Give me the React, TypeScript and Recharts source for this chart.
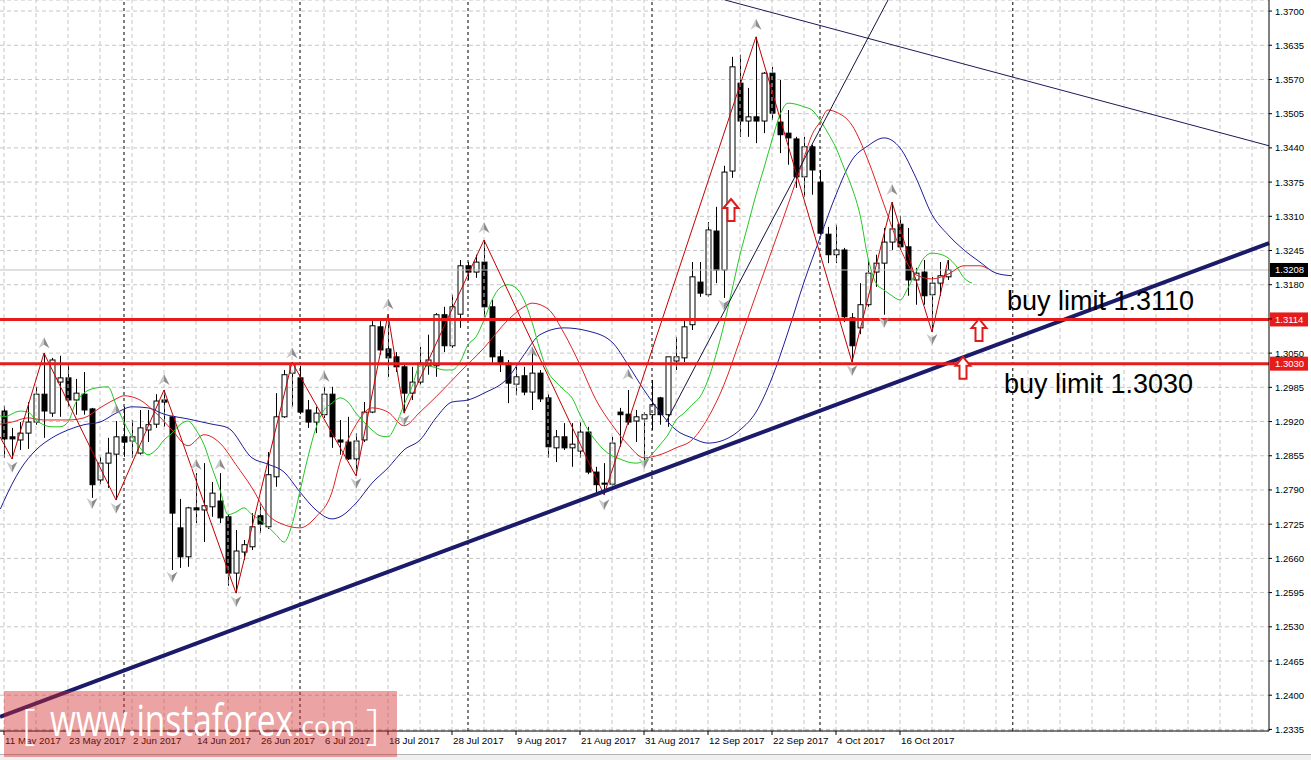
import React from 'react';
import {
  ComposedChart, Bar, Line, Scatter, XAxis, YAxis, CartesianGrid, ReferenceLine, ReferenceDot,
} from 'recharts';

const FONT = "'Liberation Sans', Arial, sans-serif";

// ---- daily candles (bar index 0 = 11 May 2017) ----
const OPEN = [1.2940,1.2891,1.2885,1.2898,1.2919,1.2972,1.2936,1.2995,1.3003,1.2961,
1.2972,1.2944,1.2809,1.2841,1.2858,1.2891,1.2883,1.2860,1.2904,1.2915,
1.2961,1.2929,1.2718,1.2663,1.2756,1.2752,1.2758,1.2769,1.2739,1.2632,
1.2672,1.2682,1.2741,1.2720,1.2815,1.2929,1.3012,1.3003,1.2942,1.2919,
1.2933,1.2972,1.2885,1.2881,1.2849,1.2885,1.2938,1.3100,1.3058,1.3043,
1.3024,1.2974,1.2995,1.3026,1.3026,1.3123,1.3064,1.3124,1.3216,1.3204,
1.3223,1.3138,1.3043,1.3031,1.2991,1.3007,1.2976,1.3012,1.2965,1.2870,
1.2891,1.2870,1.2864,1.2900,1.2824,1.2803,1.2801,1.2938,1.2934,1.2921,
1.2925,1.2933,1.2965,1.2933,1.3035,1.3041,1.3104,1.3185,1.3161,1.3282,
1.3208,1.3396,1.3563,1.3491,1.3499,1.3491,1.3582,1.3489,1.3468,1.3457,
1.3385,1.3442,1.3375,1.3276,1.3237,1.3246,1.3117,1.3098,1.3142,1.3204,
1.3221,1.3261,1.3295,1.3252,1.3189,1.3204,1.3161,1.3183,1.3195];

const HIGH = [1.2950,1.2908,1.2919,1.2957,1.2986,1.3050,1.3041,1.3045,1.3031,1.3001,
1.3014,1.2946,1.2853,1.2889,1.2921,1.2948,1.2923,1.2942,1.2942,1.2972,
1.2980,1.2931,1.2773,1.2758,1.2822,1.2841,1.2805,1.2822,1.2743,1.2714,
1.2695,1.2746,1.2765,1.2862,1.2974,1.3018,1.3033,1.3026,1.2961,1.2948,
1.2986,1.2986,1.2923,1.2929,1.2898,1.2957,1.3113,1.3115,1.3124,1.3052,
1.3028,1.3024,1.3062,1.3085,1.3126,1.3138,1.3161,1.3227,1.3223,1.3237,
1.3265,1.3151,1.3056,1.3037,1.3024,1.3024,1.3050,1.3018,1.2972,1.2904,
1.2917,1.2917,1.2919,1.2910,1.2834,1.2841,1.2891,1.2946,1.2980,1.2942,
1.2938,1.2999,1.2967,1.3043,1.3081,1.3111,1.3223,1.3223,1.3299,1.3328,
1.3406,1.3613,1.3617,1.3554,1.3651,1.3584,1.3594,1.3569,1.3512,1.3461,
1.3461,1.3446,1.3398,1.3290,1.3294,1.3250,1.3126,1.3183,1.3227,1.3237,
1.3288,1.3337,1.3311,1.3288,1.3212,1.3227,1.3195,1.3223,1.3227];

const LOW = [1.2851,1.2849,1.2866,1.2868,1.2914,1.2889,1.2929,1.2929,1.2948,1.2933,
1.2933,1.2775,1.2801,1.2794,1.2771,1.2853,1.2851,1.2857,1.2881,1.2908,
1.2910,1.2638,1.2642,1.2644,1.2727,1.2691,1.2739,1.2727,1.2608,1.2594,
1.2657,1.2676,1.2708,1.2716,1.2796,1.2927,1.2948,1.2934,1.2908,1.2898,
1.2927,1.2870,1.2857,1.2847,1.2817,1.2881,1.2936,1.3047,1.3005,1.3014,
1.2936,1.2961,1.2990,1.3009,1.3005,1.3052,1.3060,1.3098,1.3189,1.3193,
1.3119,1.3028,1.3014,1.2955,1.2970,1.2970,1.2942,1.2957,1.2851,1.2843,
1.2866,1.2834,1.2851,1.2820,1.2781,1.2781,1.2798,1.2872,1.2914,1.2881,
1.2847,1.2904,1.2914,1.2910,1.3018,1.3033,1.3094,1.3157,1.3157,1.3183,
1.3155,1.3383,1.3461,1.3461,1.3449,1.3468,1.3493,1.3430,1.3408,1.3364,
1.3347,1.3351,1.3275,1.3221,1.3221,1.3109,1.3033,1.3086,1.3138,1.3176,
1.3123,1.3246,1.3246,1.3159,1.3142,1.3142,1.3090,1.3159,1.3189];

const CLOSE = [1.2887,1.2887,1.2898,1.2919,1.2972,1.2940,1.3037,1.3003,1.2961,1.2974,
1.2942,1.2800,1.2841,1.2860,1.2891,1.2881,1.2891,1.2908,1.2914,1.2959,
1.2957,1.2746,1.2663,1.2756,1.2752,1.2760,1.2784,1.2737,1.2632,1.2674,
1.2686,1.2720,1.2725,1.2819,1.2929,1.3009,1.3029,1.2938,1.2919,1.2936,
1.2972,1.2891,1.2881,1.2849,1.2883,1.2938,1.3102,1.3056,1.3041,1.3024,
1.2974,1.2995,1.3031,1.3037,1.3123,1.3064,1.3138,1.3216,1.3204,1.3223,
1.3138,1.3043,1.3031,1.2993,1.3005,1.2976,1.3012,1.2963,1.2872,1.2891,
1.2870,1.2877,1.2900,1.2824,1.2800,1.2801,1.2879,1.2933,1.2919,1.2929,
1.2933,1.2952,1.2933,1.3043,1.3043,1.3100,1.3195,1.3164,1.3284,1.3208,
1.3394,1.3594,1.3491,1.3499,1.3491,1.3582,1.3506,1.3465,1.3459,1.3385,
1.3442,1.3398,1.3278,1.3237,1.3246,1.3119,1.3064,1.3142,1.3202,1.3221,
1.3261,1.3286,1.3252,1.3189,1.3202,1.3159,1.3183,1.3197,1.3208];

// ---- axis ticks ----
const LABEL_BARS = [0, 8, 16, 24, 32, 40, 48, 56, 64, 72, 80, 88, 96, 104, 112];
const DATE_LABELS = ['11 May 2017', '23 May 2017', '2 Jun 2017', '14 Jun 2017', '26 Jun 2017',
  '6 Jul 2017', '18 Jul 2017', '28 Jul 2017', '9 Aug 2017', '21 Aug 2017', '31 Aug 2017',
  '12 Sep 2017', '22 Sep 2017', '4 Oct 2017', '16 Oct 2017'];
const PRICE_TICKS = [1.2335, 1.2400, 1.2465, 1.2530, 1.2595, 1.2660, 1.2725, 1.2790, 1.2855,
  1.2920, 1.2985, 1.3050, 1.3115, 1.3180, 1.3245, 1.3310, 1.3375, 1.3440, 1.3505, 1.3570,
  1.3635, 1.3700];
// price labels hidden under the red 1.3114 marker box
const HIDDEN_PRICE_LABELS = [1.3115];
const GRID_BARS = [0,4,8,12,16,20,24,28,32,36,40,44,48,52,56,60,64,68,72,76,80,84,88,92,96,
  100,104,108,112,116,120,124,128,132,136,140,144,148,152,156];
const MONTH_SEPARATORS = [15, 37, 58, 81, 102, 126.1];

// ---- Alligator lines [bar, price] ----
const LIPS: [number, number][] = [[-0.5,1.2931],[0,1.2929],[2,1.2940],[3,1.2938],[4,1.2923],[6,1.2910],[7,1.2910],
[8,1.2919],[9,1.2957],[10,1.2974],[11,1.2982],[13,1.2986],[14,1.2952],[15,1.2919],[16,1.2891],
[17,1.2870],[18,1.2857],[19,1.2866],[20,1.2885],[21,1.2898],[22,1.2914],[23,1.2921],[24,1.2904],
[25,1.2876],[26,1.2832],[27,1.2790],[28,1.2743],[29,1.2748],[30,1.2756],[31,1.2743],[32,1.2733],
[33,1.2720],[34,1.2705],[35,1.2691],[36,1.2724],[37,1.2788],[38,1.2853],[39,1.2908],[40,1.2942],
[41,1.2955],[42,1.2965],[43,1.2957],[44,1.2936],[45,1.2919],[46,1.2904],[47,1.2893],[48,1.2891],
[49,1.2914],[50,1.2952],[51,1.2986],[52,1.3026],[53,1.3026],[54,1.3022],[55,1.3018],[56,1.3018],
[57,1.3033],[58,1.3066],[59,1.3081],[60,1.3113],[61,1.3151],[62,1.3174],[63,1.3180],[64,1.3174],
[65,1.3151],[66,1.3109],[67,1.3056],[68,1.3014],[69,1.2995],[70,1.2980],[71,1.2965],[72,1.2933],
[73,1.2904],[74,1.2883],[75,1.2866],[76,1.2855],[77,1.2849],[78,1.2843],[79,1.2841],[80,1.2845],
[81,1.2858],[82,1.2876],[83,1.2895],[84,1.2923],[85,1.2936],[86,1.2952],[87,1.2967],[88,1.2999],
[89,1.3047],[90,1.3104],[91,1.3170],[92,1.3237],[93,1.3294],[94,1.3351],[95,1.3402],[96,1.3455],
[97,1.3503],[98,1.3525],[99,1.3523],[100,1.3518],[101,1.3512],[102,1.3493],[103,1.3468],[104,1.3440],
[105,1.3402],[106,1.3364],[107,1.3313],[108,1.3231],[109,1.3183],[110,1.3170],[111,1.3159],
[112,1.3151],[113,1.3174],[114,1.3204],[115,1.3231],[116,1.3240],[117,1.3238],[118,1.3231],
[119,1.3216],[120,1.3193],[121,1.3183]];

const TEETH: [number, number][] = [[-0.5,1.2915],[1,1.2919],[3,1.2927],[5,1.2923],[8,1.2923],[10,1.2927],
[12,1.2946],[14,1.2963],[15,1.2969],[17,1.2961],[19,1.2936],[21,1.2904],[23,1.2874],[25,1.2895],
[27,1.2879],[29,1.2838],[31,1.2794],[33,1.2743],[35,1.2724],[37,1.2718],[39,1.2739],[41,1.2786],
[42,1.2843],[43,1.2885],[44,1.2914],[46,1.2946],[48,1.2938],[50,1.2912],[52,1.2938],[54,1.2967],
[57,1.3014],[60,1.3060],[63,1.3113],[65,1.3138],[66,1.3145],[68,1.3134],[70,1.3088],[72,1.3028],
[74,1.2961],[76,1.2914],[78,1.2876],[80,1.2851],[82,1.2857],[84,1.2870],[86,1.2885],[88,1.2927],
[90,1.2990],[92,1.3075],[94,1.3161],[96,1.3246],[98,1.3332],[100,1.3421],[101,1.3465],[102,1.3489],
[103,1.3512],[104,1.3508],[106,1.3483],[108,1.3417],[110,1.3332],[112,1.3250],[114,1.3199],
[116,1.3191],[118,1.3200],[120,1.3216],[122,1.3216],[123,1.3210]];

const JAW: [number, number][] = [[-0.45,1.2754],[1,1.2801],[2,1.2828],[4,1.2866],[6,1.2889],[8,1.2904],
[10,1.2914],[12,1.2919],[14,1.2936],[16,1.2948],[18,1.2946],[20,1.2934],[23,1.2925],[26,1.2915],
[28,1.2908],[31,1.2851],[33,1.2839],[35,1.2824],[37,1.2786],[39,1.2752],[41,1.2735],[42,1.2739],
[44,1.2765],[46,1.2803],[48,1.2832],[50,1.2866],[52,1.2885],[54,1.2927],[56,1.2957],[58,1.2961],
[60,1.2974],[63,1.3003],[65,1.3047],[67,1.3085],[70,1.3098],[73,1.3092],[76,1.3071],[78,1.3028],
[80,1.2980],[82,1.2938],[84,1.2904],[86,1.2889],[88,1.2879],[90,1.2885],[92,1.2904],[94,1.2938],
[96,1.3003],[98,1.3090],[100,1.3185],[102,1.3269],[104,1.3351],[106,1.3417],[108,1.3444],
[110,1.3459],[112,1.3440],[114,1.3383],[116,1.3313],[118,1.3275],[120,1.3246],[122,1.3223],
[124,1.3202],[126,1.3197]];

const ZIGZAG: [number, number][] = [[-0.5,1.2891],[1,1.2849],[5,1.3050],[14,1.2771],[20,1.2980],
[29,1.2594],[36,1.3033],[44,1.2817],[48,1.3124],[50,1.2936],[60,1.3265],[75,1.2781],[94,1.3651],
[106,1.3033],[111,1.3337],[116,1.3090],[118,1.3227]];

const FRACTAL_UP: [number, number][] = [[5,1.3069],[14,1.2942],[20,1.2999],[24,1.2838],[27,1.2838],
[36,1.3050],[40,1.3005],[48,1.3143],[60,1.3288],[66,1.3052],[78,1.3009],[94,1.3674],[111,1.3360]];
const FRACTAL_DOWN: [number, number][] = [[1,1.2834],[11,1.2765],[14,1.2756],[21,1.2625],[29,1.2579],
[44,1.2803],[50,1.2923],[75,1.2763],[80,1.2841],[90,1.3142],[106,1.3018],[110,1.3109],[116,1.3077]];

// ---- drawings ----
const LEVELS = [1.3114, 1.3030];
const BID = 1.3208;
const TRENDLINES = [
  { a: [-0.5, 1.2359], b: [158.125, 1.3259], w: 4, color: '#1b1b6a' },
  { a: [90.125, 1.3721], b: [158.125, 1.3444], w: 1, color: '#1a1a5a' },
  { a: [82.75, 1.2919], b: [110.5, 1.3721], w: 1, color: '#14143c' },
];
const ARROWS: [number, number][] = [[90.875, 1.3322], [121.875, 1.3094], [119.875, 1.3022]];
const NOTES = [
  { i: 125.375, p: 1.3132, text: 'buy limit 1.3110' },
  { i: 125, p: 1.2974, text: 'buy limit 1.3030' },
];

const Y_MIN = 1.2332;
const Y_MAX = 1.3721;
const X_MIN = -0.5;
const X_MAX = 158.125;

const candleRows = OPEN.map((o, i) => ({
  i, o, h: HIGH[i], l: LOW[i], c: CLOSE[i], range: [LOW[i], HIGH[i]],
}));
const toRows = (pairs: [number, number][]) => pairs.map(([i, v]) => ({ i, v }));

const Candle = (props: any) => {
  const { x, y, width, height, payload } = props;
  if (!payload || height == null || isNaN(y)) return null;
  const { o, h, l, c } = payload;
  const k = height / (h - l);
  const cx = Math.round(x + width / 2);
  const yo = y + (h - o) * k;
  const yc = y + (h - c) * k;
  const top = Math.min(yo, yc);
  const bh = Math.max(Math.abs(yc - yo), 1);
  const bull = c > o;
  return (
    <g>
      <line x1={cx + 0.5} x2={cx + 0.5} y1={y} y2={y + height} stroke="#000" strokeWidth={1} />
      <rect x={cx - 2} y={top} width={5} height={bh} fill={bull ? '#fff' : '#000'} stroke="#000" strokeWidth={1} />
    </g>
  );
};

const UpMark = (props: any) => {
  const { cx, cy } = props;
  if (cx == null || cy == null) return null;
  return (
    <g>
      <path d={`M${cx},${cy - 6} L${cx + 5.5},${cy + 5} L${cx},${cy + 1.5} Z`} fill="#8c8c8c" />
      <path d={`M${cx},${cy - 6} L${cx - 5.5},${cy + 5} L${cx},${cy + 1.5} Z`} fill="#c8c8c8" />
    </g>
  );
};
const DownMark = (props: any) => {
  const { cx, cy } = props;
  if (cx == null || cy == null) return null;
  return (
    <g>
      <path d={`M${cx},${cy + 6} L${cx + 5.5},${cy - 5} L${cx},${cy - 1.5} Z`} fill="#8c8c8c" />
      <path d={`M${cx},${cy + 6} L${cx - 5.5},${cy - 5} L${cx},${cy - 1.5} Z`} fill="#c8c8c8" />
    </g>
  );
};

const HollowArrow = (props: any) => {
  const { cx, cy } = props;
  const d = `M${cx},${cy - 11} L${cx + 7.5},${cy - 2} L${cx + 3.5},${cy - 2} L${cx + 3.5},${cy + 11} L${cx - 3.5},${cy + 11} L${cx - 3.5},${cy - 2} L${cx - 7.5},${cy - 2} Z`;
  return <path d={d} fill="#fff" stroke="#e01a1a" strokeWidth={2} strokeLinejoin="miter" />;
};

const NoteText = (text: string) => (props: any) => (
  <text x={props.cx} y={props.cy} fontSize={27} fontFamily={FONT} fill="#000">{text}</text>
);

const PriceBox = (value: string, bg: string) => (props: any) => {
  const vb = props.viewBox || {};
  const x = (vb.x || 0) + (vb.width || 0) + 1;
  const y = vb.y || 0;
  return (
    <g>
      <rect x={x} y={y - 7} width={38} height={14} fill={bg} />
      <text x={x + 5} y={y + 3.5} fontSize={9.5} fontFamily={FONT} fill="#fff">{value}</text>
    </g>
  );
};

const YTick = (props: any) => {
  const { x, y, payload } = props;
  if (HIDDEN_PRICE_LABELS.includes(payload.value)) return null;
  return (
    <text x={x + 1} y={y + 3.5} textAnchor="start" fontSize={9.5} fontFamily={FONT} fill="#000">
      {Number(payload.value).toFixed(4)}
    </text>
  );
};

const XTick = (props: any) => {
  const { x, y, payload } = props;
  const idx = LABEL_BARS.indexOf(payload.value);
  return (
    <text x={x + 1} y={y + 7} textAnchor="start" fontSize={9.8} fontFamily={FONT} fill="#000">
      {idx >= 0 ? DATE_LABELS[idx] : ''}
    </text>
  );
};

export default function App() {
  return (
    <div style={{ position: 'absolute', left: 0, top: 0, width: 1311, height: 760, background: '#fff', overflow: 'hidden' }}>
      <style>{'body{margin:0;}'}</style>
      <ComposedChart
        width={1311}
        height={760}
        data={candleRows}
        margin={{ top: 0, right: 0, bottom: 0, left: 0 }}
      >
        <CartesianGrid vertical={false} stroke="#c6c6c6" strokeDasharray="4 3" />
        <XAxis
          dataKey="i"
          type="number"
          domain={[X_MIN, X_MAX]}
          allowDataOverflow
          ticks={LABEL_BARS}
          interval={0}
          height={29}
          tickSize={4}
          axisLine={{ stroke: '#000' }}
          tickLine={{ stroke: '#000' }}
          tick={<XTick />}
        />
        <YAxis
          orientation="right"
          type="number"
          domain={[Y_MIN, Y_MAX]}
          allowDataOverflow
          ticks={PRICE_TICKS}
          interval={0}
          width={42}
          tickSize={3}
          axisLine={{ stroke: '#000' }}
          tickLine={{ stroke: '#000' }}
          tick={<YTick />}
        />
        {GRID_BARS.map((g) => (
          <ReferenceLine key={`g${g}`} x={g} stroke="#c6c6c6" strokeDasharray="4 3" />
        ))}
        {MONTH_SEPARATORS.map((m) => (
          <ReferenceLine key={`m${m}`} x={m} stroke="#000" strokeDasharray="3 3" />
        ))}
        <ReferenceLine y={BID} stroke="#c0c0c0" label={PriceBox('1.3208', '#000')} />
        <Bar dataKey="range" barSize={6} shape={<Candle />} isAnimationActive={false} />
        <Line data={toRows(JAW)} dataKey="v" type="monotone" stroke="#1e1e9a" strokeWidth={1} dot={false} activeDot={false} connectNulls isAnimationActive={false} />
        <Line data={toRows(TEETH)} dataKey="v" type="monotone" stroke="#e02424" strokeWidth={1} dot={false} activeDot={false} connectNulls isAnimationActive={false} />
        <Line data={toRows(LIPS)} dataKey="v" type="monotone" stroke="#22c822" strokeWidth={1} dot={false} activeDot={false} connectNulls isAnimationActive={false} />
        <Line data={toRows(ZIGZAG)} dataKey="v" type="linear" stroke="#c00000" strokeWidth={1} dot={false} activeDot={false} connectNulls isAnimationActive={false} />
        <Scatter data={toRows(FRACTAL_UP)} dataKey="v" shape={<UpMark />} isAnimationActive={false} />
        <Scatter data={toRows(FRACTAL_DOWN)} dataKey="v" shape={<DownMark />} isAnimationActive={false} />
        {TRENDLINES.map((t, k) => (
          <ReferenceLine
            key={`t${k}`}
            segment={[{ x: t.a[0], y: t.a[1] }, { x: t.b[0], y: t.b[1] }]}
            stroke={t.color}
            strokeWidth={t.w}
            ifOverflow="visible"
          />
        ))}
        <ReferenceLine y={LEVELS[0]} stroke="#e41c1c" strokeWidth={3} label={PriceBox('1.3114', '#e41c1c')} />
        <ReferenceLine y={LEVELS[1]} stroke="#e41c1c" strokeWidth={3} label={PriceBox('1.3030', '#e41c1c')} />
        {ARROWS.map(([i, p], k) => (
          <ReferenceDot key={`a${k}`} x={i} y={p} r={0} shape={<HollowArrow />} ifOverflow="visible" />
        ))}
        {NOTES.map((n, k) => (
          <ReferenceDot key={`n${k}`} x={n.i} y={n.p} r={0} shape={NoteText(n.text)} ifOverflow="visible" />
        ))}
      </ComposedChart>
      <div style={{ position: 'absolute', left: 0, top: 754, width: 1311, height: 6, background: '#f0f0f0', borderTop: '1px solid #b4b4b4' }} />
      <div style={{ position: 'absolute', left: 4, top: 691, width: 393, height: 66, background: 'rgba(212,42,42,0.43)' }}>
        <svg width={393} height={66} style={{ display: 'block' }}>
          <g fill="#fff" fontFamily="'Open Sans', 'Liberation Sans', sans-serif" fontWeight={400}>
            <text x={18} y={48} fontSize={42} fontWeight={300}>[</text>
            <text x={46} y={45} fontSize={43} textLength={243} lengthAdjust="spacingAndGlyphs">www.instaforex</text>
            <text x={290} y={45} fontSize={27}>.com</text>
            <text x={362} y={48} fontSize={42} fontWeight={300}>]</text>
          </g>
        </svg>
      </div>
    </div>
  );
}
